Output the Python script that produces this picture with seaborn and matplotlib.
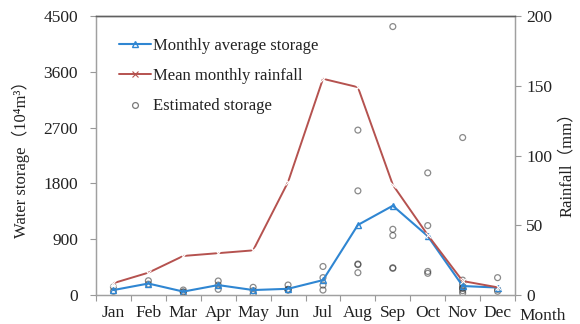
import matplotlib
matplotlib.use("Agg")
import matplotlib.pyplot as plt
from matplotlib.lines import Line2D
import seaborn as sns
import pandas as pd

months = ["Jan", "Feb", "Mar", "Apr", "May", "Jun",
          "Jul", "Aug", "Sep", "Oct", "Nov", "Dec"]

# Monthly average storage (10^4 m^3)
storage = [80, 185, 55, 160, 80, 100, 240, 1130, 1440, 950, 145, 120]

# Mean monthly rainfall (mm)
rainfall = [8.5, 16, 28, 30, 32, 81, 155, 149, 79, 43, 10, 5.5]

# Estimated storage for individual years (10^4 m^3)
est_month = ["Jan", "Jan", "Feb", "Feb", "Mar", "Mar", "Mar",
             "Apr", "Apr", "Apr", "May", "May", "May",
             "Jun", "Jun", "Jun", "Jun",
             "Jul", "Jul", "Jul", "Jul",
             "Aug", "Aug", "Aug", "Aug", "Aug",
             "Sep", "Sep", "Sep", "Sep", "Sep",
             "Oct", "Oct", "Oct", "Oct",
             "Nov", "Nov", "Nov", "Nov", "Nov", "Nov", "Nov", "Nov",
             "Dec", "Dec", "Dec"]
est_value = [130, 60, 230, 175, 80, 45, 50,
             226, 160, 92, 124, 69, 11,
             161, 92, 85, 80,
             460, 280, 160, 80,
             2660, 1680, 500, 490, 360,
             4330, 1060, 960, 440, 430,
             1970, 1120, 380, 350,
             2540, 240, 190, 150, 110, 110, 70, 30,
             280, 90, 60]

sns.set_theme(style="white")
plt.rcParams["font.family"] = ["Liberation Serif", "Noto Sans CJK SC", "DejaVu Sans"]

blue = "#2f86d2"
red = "#b5524f"
txt = "#222222"

fig = plt.figure(figsize=(5.8, 3.24), dpi=100)
ax = fig.add_axes([0.1655, 0.0895, 0.7225, 0.861])
ax2 = ax.twinx()

pos = {m: i for i, m in enumerate(months)}
df_main = pd.DataFrame({"x": range(len(months)), "storage": storage, "rain": rainfall})
df_est = pd.DataFrame({"x": [pos[m] for m in est_month], "value": est_value})

sns.scatterplot(data=df_est, x="x", y="value", ax=ax, marker="o", s=18,
                facecolor="none", edgecolor="#2a2a2a", linewidth=0.9, alpha=0.55,
                zorder=2)
sns.lineplot(data=df_main, x="x", y="storage", ax=ax, color=blue, linewidth=1.5,
             marker="^", markersize=5, markerfacecolor="none",
             markeredgecolor=blue, markeredgewidth=1.0, zorder=3)
sns.lineplot(data=df_main, x="x", y="rain", ax=ax2, color=red, linewidth=1.4,
             marker="x", markersize=5, markeredgewidth=0.8, zorder=3)

ax.set_xlim(-0.5, 11.5)
ax.set_ylim(0, 4500)
ax2.set_ylim(0, 200)
ax.set_yticks([0, 900, 1800, 2700, 3600, 4500])
ax2.set_yticks([0, 50, 100, 150, 200])
ax.set_xticks(range(12))
ax.set_xticklabels(months)
ax.set_xticks([i - 0.5 for i in range(13)], minor=True)

fs = 12.5
ax.tick_params(axis="x", which="major", length=0, labelsize=fs, pad=7, colors=txt)
ax.tick_params(axis="x", which="minor", length=4, width=0.8, color="#999999", direction="out", bottom=True)
ax.tick_params(axis="y", length=4, width=0.8, color="#999999", labelsize=fs, pad=9,
               direction="out", left=True, labelcolor=txt)
ax2.tick_params(axis="y", length=4, width=0.8, color="#999999", labelsize=fs, pad=4,
                direction="out", right=True, labelcolor=txt)

ax.set_xlabel("")
ax.set_ylabel("Water storage（10⁴m³）", fontsize=12, color=txt)
ax2.set_ylabel("Rainfall（mm）", fontsize=12, color=txt)
ax.yaxis.set_label_coords(-0.158, 0.5)
ax2.yaxis.set_label_coords(1.104, 0.48)

for a in (ax, ax2):
    for side in ("left", "right", "bottom"):
        a.spines[side].set_color("#a0a0a0")
        a.spines[side].set_linewidth(0.9)
    a.spines["top"].set_color("#606060")
    a.spines["top"].set_linewidth(1.0)

ax.text(1.01, -0.075, "Month", transform=ax.transAxes, fontsize=fs,
        ha="left", va="center", color=txt)

handles = [
    Line2D([], [], color=blue, linewidth=1.5, marker="^", markersize=5,
           markerfacecolor="none", markeredgecolor=blue),
    Line2D([], [], color=red, linewidth=1.4, marker="x", markersize=5, markeredgewidth=0.8),
    Line2D([], [], linestyle="none", marker="o", markersize=4.2,
           markerfacecolor="none", markeredgecolor="#7a7a7a", markeredgewidth=0.9),
]
labels = ["Monthly average storage", "Mean monthly rainfall", "Estimated storage"]
leg = ax2.legend(handles, labels, loc="upper left", bbox_to_anchor=(0.02, 0.975),
                 frameon=False, fontsize=12, handlelength=1.9, handletextpad=0.1,
                 labelspacing=0.85, borderaxespad=0.5)
for t in leg.get_texts():
    t.set_color(txt)

fig.savefig("out.png", dpi=100)
